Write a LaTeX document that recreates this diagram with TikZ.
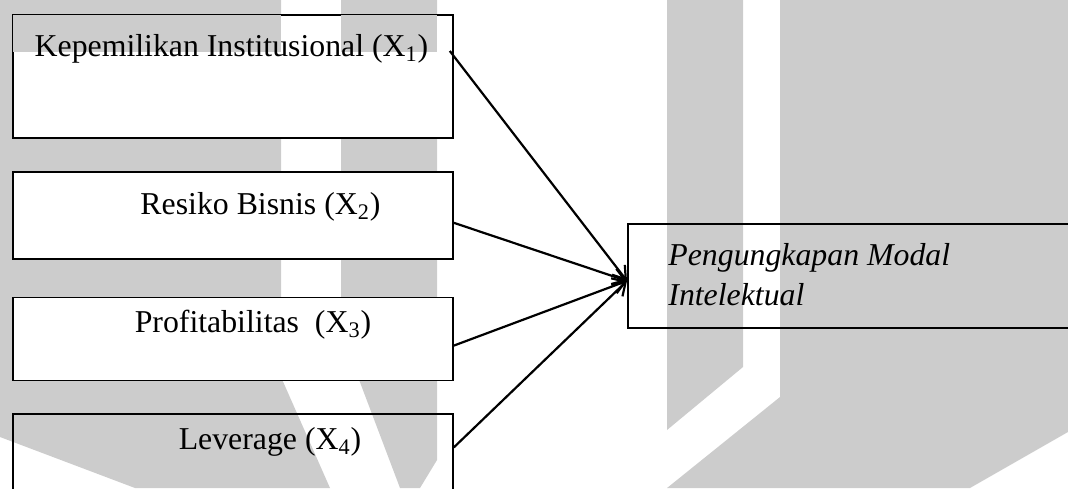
\documentclass[tikz,border=0pt]{standalone}
\usepackage{fontspec}
\setmainfont{Liberation Serif}
\usepackage{xcolor}
\usepackage{tikz}
\usetikzlibrary{arrows.meta, positioning, calc}
\definecolor{wmark}{HTML}{CCCCCC}

\begin{document}
\begin{tikzpicture}[
    x=0.5pt, y=-0.5pt,
    font=\fontsize{15.9}{20}\selectfont,
    var/.style={rectangle, draw=black, line width=0.9pt, minimum width=220pt,
      anchor=north west, inner sep=0pt},
    dep/.style={rectangle, draw=black, line width=0.9pt, minimum width=250pt,
      minimum height=52pt, anchor=north west, inner sep=0pt},
    txt/.style={inner sep=0pt, anchor=base},
    link/.style={-{Straight Barb[length=6pt, width=8pt]}, line width=1.1pt}
  ]
  \useasboundingbox (0,0) rectangle (1068,488);
  % watermark in the background
  \fill[wmark] (0,0) -- (281,0) -- (281,377) -- (330,488) -- (135,488) -- (0,437) -- cycle;
  \fill[wmark] (341,0) -- (437,0) -- (437,460) -- (420,488) -- (400,488) -- (358,377) -- (341,355) -- cycle;
  \fill[wmark] (667,0) -- (743,0) -- (743,367) -- (667,430) -- cycle;
  \fill[wmark] (780,0) -- (1068,0) -- (1068,432) -- (970,488) -- (667,488) -- (780,397) -- cycle;

  % variables
  \node[var, fill=white, minimum height=61.5pt] (b1) at (12,14) {};
  \node[var, fill=white, minimum height=43.5pt, below=16pt of b1] (b2) {};
  \node[var, fill=white, minimum height=41.5pt, below=18.5pt of b2] (b3) {};
  \node[var, minimum height=60pt, below=16pt of b3] (b4) {};
  \node[dep] (tgt) at (627,223) {};
  \fill[wmark] (13,15) rectangle (281,51.5);
  \fill[wmark] (341,15) rectangle (437,51.5);

  \node[txt] (t1) at (231.5,56) {Kepemilikan Institusional (X\textsubscript{1})};
  \node[txt] (t2) at (260.5,214) {Resiko Bisnis (X\textsubscript{2})};
  \node[txt] (t3) at (253,332) {Profitabilitas\ \ (X\textsubscript{3})};
  \node[txt] (t4) at (270,449) {Leverage (X\textsubscript{4})};
  \node[inner sep=0pt, anchor=base west, align=left, font=\fontsize{15.9}{20}\selectfont\itshape]
    (ty) at (668,305) {Pengungkapan Modal\\Intelektual};

  % arrows
  \coordinate (hub) at ($(tgt.west)+(0,5)$);
  \draw[link] ($(b1.north east)+(-4,37)$) -- (hub);
  \draw[link] ($(b2.north east)+(0,52)$) -- (hub);
  \draw[link] ($(b3.north east)+(0,49)$) -- (hub);
  \draw[link] ($(b4.north east)+(0,34)$) -- (hub);
\end{tikzpicture}
\end{document}
